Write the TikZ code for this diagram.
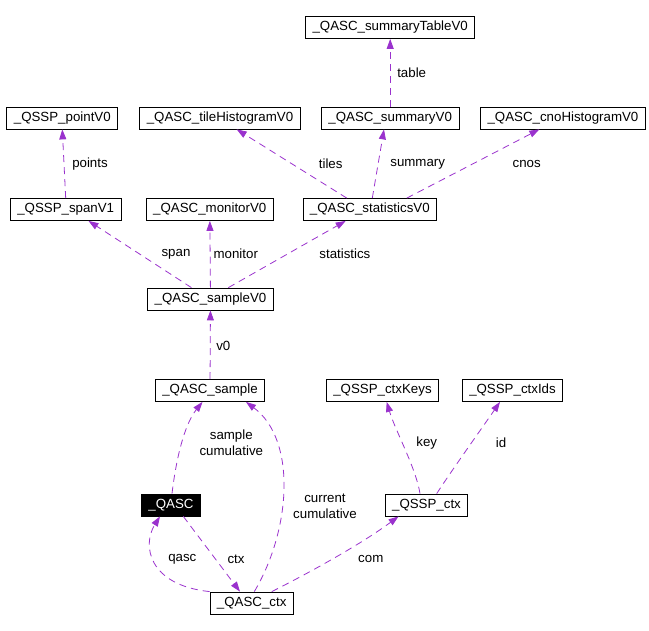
\documentclass[tikz,border=0pt]{standalone}
\usepackage{fontspec}
\setmainfont{Liberation Sans}
\usetikzlibrary{arrows.meta}
\definecolor{usecol}{HTML}{9A32CD}

\begin{document}
\begin{tikzpicture}[x=1pt,y=-1pt,
  every node/.style={font=\fontsize{13.3}{16}\selectfont},
  cls/.style={draw=black,line width=0.8pt,fill=white,inner xsep=7pt,inner ysep=0pt,minimum height=22pt},
  me/.style={cls,fill=black,text=white},
  lab/.style={inner sep=0pt,align=center},
  rel/.style={->,draw=usecol,line width=0.8pt,dash pattern=on 7pt off 5pt},
  >={Triangle[length=10pt,width=7pt,fill=usecol]}]
\useasboundingbox (0,0) rectangle (649,631);
% classes
\node[cls] (sumtab) at (390.2,27.5) {\_QASC\_summaryTableV0};
\node[cls] (point) at (62.3,118) {\_QSSP\_pointV0};
\node[cls] (tile) at (220,118) {\_QASC\_tileHistogramV0};
\node[cls] (sumv) at (390.2,118) {\_QASC\_summaryV0};
\node[cls] (cno) at (563,118) {\_QASC\_cnoHistogramV0};
\node[cls] (span) at (65.7,209.5) {\_QSSP\_spanV1};
\node[cls] (monitor) at (209.8,209.5) {\_QASC\_monitorV0};
\node[cls] (stats) at (369.8,209.5) {\_QASC\_statisticsV0};
\node[cls] (samplev) at (210.5,299) {\_QASC\_sampleV0};
\node[cls] (sample) at (210,390.5) {\_QASC\_sample};
\node[cls] (keys) at (382.5,390.5) {\_QSSP\_ctxKeys};
\node[cls] (ids) at (512.5,390.5) {\_QSSP\_ctxIds};
\node[me] (qasc) at (171,505) {\_QASC};
\node[cls] (qsspctx) at (426.5,505) {\_QSSP\_ctx};
\node[cls] (ctx) at (251.7,603) {\_QASC\_ctx};
% relations
\draw[rel] (sumv) -- (sumtab);
\draw[rel] (span.north) -- (point.south);
\draw[rel] ([xshift=-23pt]stats.north) -- ([xshift=16.7pt]tile.south);
\draw[rel] ([xshift=2.5pt]stats.north) -- ([xshift=-6.2pt]sumv.south);
\draw[rel] ([xshift=37pt]stats.north) -- ([xshift=-23.7pt]cno.south);
\draw[rel] ([xshift=-19.1pt]samplev.north) -- ([xshift=22.8pt]span.south);
\draw[rel] (samplev) -- (monitor);
\draw[rel] ([xshift=17.9pt]samplev.north) -- ([xshift=-24.1pt]stats.south);
\draw[rel] (sample) -- (samplev);
\draw[rel] ([xshift=1pt]qasc.north) .. controls (176,460) and (184,425) .. ([xshift=-7.5pt]sample.south);
\draw[rel] ([xshift=2.6pt]ctx.north) .. controls (291,530) and (297,440) .. ([xshift=36pt]sample.south);
\draw[rel] (ctx.north west) .. controls (148,585) and (142,545) .. ([xshift=-11pt]qasc.south);
\draw[rel] ([xshift=12.3pt]qasc.south) -- ([xshift=-11.7pt]ctx.north);
\draw[rel] ([xshift=20pt]ctx.north) .. controls (305,575) and (360,545) .. ([xshift=-28pt]qsspctx.south);
\draw[rel] ([xshift=-6.5pt]qsspctx.north) .. controls (416,468) and (395,430) .. ([xshift=4.2pt]keys.south);
\draw[rel] ([xshift=10.2pt]qsspctx.north) .. controls (452,470) and (482,428) .. ([xshift=-12.5pt]ids.south);
% labels
\node[lab] (ltable) at (411.7,73) {table};
\node[lab] (lpoints) at (90,164) {points};
\node[lab] (ltiles) at (330.7,164) {tiles};
\node[lab] (lsummary) at (417.7,164) {summary};
\node[lab] (lcnos) at (526.7,164) {cnos};
\node[lab] (lspan) at (176,254) {span};
\node[lab] (lmonitor) at (235.8,254) {monitor};
\node[lab] (lstats) at (344.9,254) {statistics};
\node[lab] (lv0) at (223.3,346) {v0};
\node[lab] (lsample) at (231.3,443) {sample\\cumulative};
\node[lab] (lcurrent) at (325,506) {current\\cumulative};
\node[lab] (lkey) at (426.7,443) {key};
\node[lab] (lid) at (501,443) {id};
\node[lab] (lqasc) at (182.3,559) {qasc};
\node[lab] (lctx) at (236,559) {ctx};
\node[lab] (lcom) at (370.8,559) {com};
\end{tikzpicture}
\end{document}
